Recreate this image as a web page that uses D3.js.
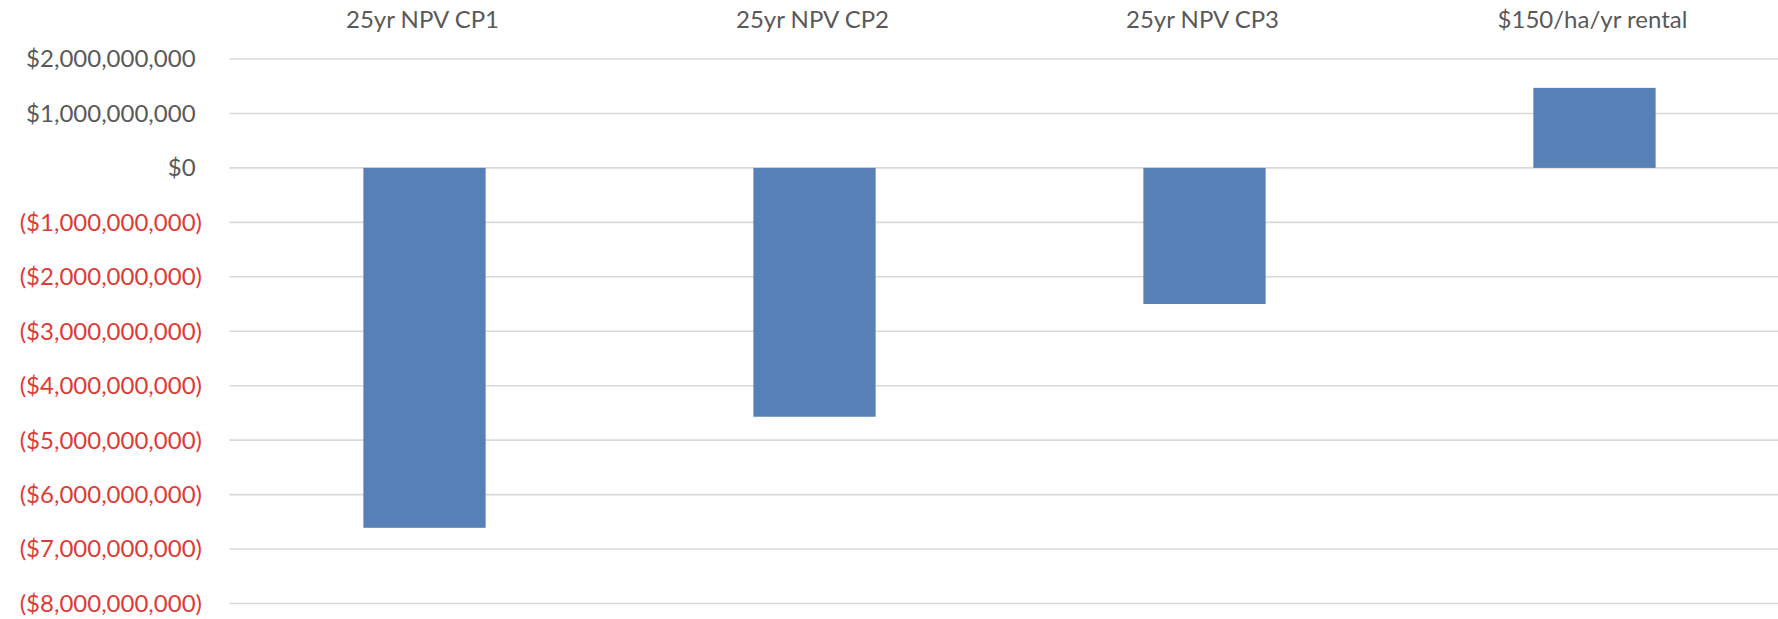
<!DOCTYPE html>
<html>
<head>
<meta charset="utf-8">
<script src="https://cdn.jsdelivr.net/npm/d3@7"></script>
<style>
  html, body { margin: 0; padding: 0; background: #ffffff; }
  svg { display: block; }
  text { font-family: Lato, "Open Sans", sans-serif; }
</style>
</head>
<body>
<svg id="chart" width="1778" height="619"></svg>
<script>
// Scenario names and their values (AUD)
const categories = ["25yr NPV CP1", "25yr NPV CP2", "25yr NPV CP3", "$150/ha/yr rental"];
const values = [-6610000000, -4570000000, -2500000000, 1470000000];
const tickValues = [2e9, 1e9, 0, -1e9, -2e9, -3e9, -4e9, -5e9, -6e9, -7e9, -8e9];

const W = 1778, H = 619;
const plot = { left: 229.5, right: 1789.5, top: 59, bottom: 603.5 };

const svg = d3.select("#chart");

// Category slots of equal width; bars take 1/(1+2.19) of a slot (gap width 219%)
const gapRatio = 2.19 / 3.19;
const x = d3.scaleBand()
  .domain(categories)
  .range([plot.left, plot.right])
  .paddingInner(gapRatio)
  .paddingOuter(gapRatio / 2);

const y = d3.scaleLinear()
  .domain([-8e9, 2e9])
  .range([plot.bottom, plot.top]);

const fmt = d3.format("($,");

// Horizontal gridlines
svg.append("g")
  .selectAll("line")
  .data(tickValues)
  .join("line")
  .attr("x1", plot.left)
  .attr("x2", plot.right)
  .attr("y1", d => y(d))
  .attr("y2", d => y(d))
  .attr("stroke", "#d9d9d9")
  .attr("stroke-width", 1.6);

// Value axis labels: negatives in red with parentheses, positives padded for the ")"
const labelRight = 202;
const yAxis = svg.append("g").attr("class", "y-axis");
const paren = yAxis.append("text").attr("font-size", 24).text(")");
const parenW = paren.node().getComputedTextLength();
paren.remove();

yAxis.selectAll("text.tick")
  .data(tickValues)
  .join("text")
  .attr("class", "tick")
  .attr("x", d => d < 0 ? labelRight : labelRight - parenW)
  .attr("y", d => y(d))
  .attr("dy", "0.35em")
  .attr("text-anchor", "end")
  .attr("font-size", 24)
  .attr("fill", d => d < 0 ? "#de3b37" : "#595959")
  .text(d => fmt(d));

// Bars
svg.append("g")
  .selectAll("rect")
  .data(values)
  .join("rect")
  .attr("x", (d, i) => x(categories[i]))
  .attr("width", x.bandwidth())
  .attr("y", d => y(Math.max(0, d)))
  .attr("height", d => Math.abs(y(d) - y(0)))
  .attr("fill", "#5780b7");

// Category labels along the top
svg.append("g")
  .selectAll("text")
  .data(categories)
  .join("text")
  .attr("x", d => x(d) + x.bandwidth() / 2 - 2)
  .attr("y", 28)
  .attr("text-anchor", "middle")
  .attr("font-size", 24)
  .attr("fill", "#595959")
  .text(d => d);
</script>
</body>
</html>
